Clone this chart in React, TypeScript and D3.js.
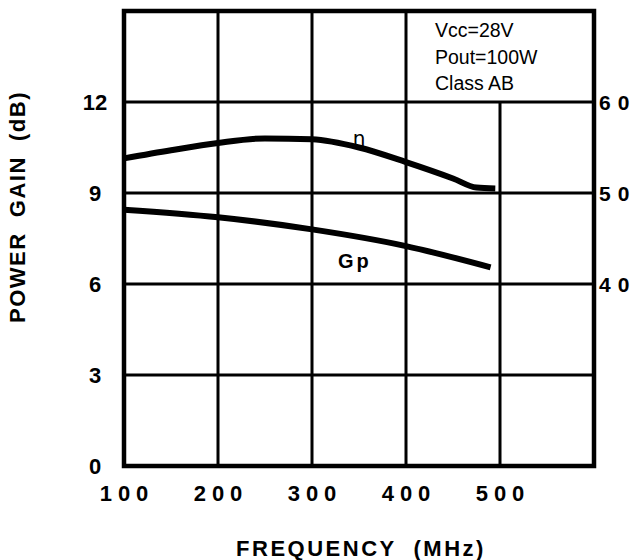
import * as d3 from 'd3';
import React from 'react';

// axis ticks
const freqTicks = [100, 200, 300, 400, 500];
const gainTicks = [0, 3, 6, 9, 12];
const effTicks = [40, 50, 60];

// Gp curve (power gain, dB)
const gpFreq = [100, 200, 300, 400, 490];
const gpGain = [8.45, 8.2, 7.8, 7.25, 6.55];

// eta curve (efficiency, %), read on the right axis
const etaFreq = [100, 150, 200, 250, 300, 350, 400, 450, 475, 495];
const etaEff = [53.8, 54.7, 55.5, 56.0, 55.9, 55.0, 53.4, 51.6, 50.6, 50.5];

const notes = ['Vcc=28V', 'Pout=100W', 'Class AB'];

export default function App() {
    const width = 639;
    const height = 560;
    const left = 124, right = 594, top = 11, bottom = 466;

    const x = d3.scaleLinear().domain([100, 600]).range([left, right]);
    const y = d3.scaleLinear().domain([0, 15]).range([bottom, top]);
    const yEff = d3.scaleLinear().domain([20, 70]).range([bottom, top]);

    const line = d3.line<[number, number]>()
        .x(d => d[0])
        .y(d => d[1])
        .curve(d3.curveMonotoneX);

    const gpPath = line(gpFreq.map((f, i) => [x(f), y(gpGain[i])]));
    const etaPath = line(etaFreq.map((f, i) => [x(f), yEff(etaEff[i])]));

    const font = '"Liberation Sans", Arial, Helvetica, sans-serif';

    return (
        <svg
            width={width}
            height={height}
            viewBox={`0 0 ${width} ${height}`}
            style={{position: 'absolute', left: 0, top: 0, background: '#fff'}}
            fontFamily={font}
            fill="#000"
        >
            <rect x={0} y={0} width={width} height={height} fill="#fff" />

            {/* horizontal grid */}
            {gainTicks.filter(t => t > 0).map(t => (
                <line key={'h' + t} x1={left} x2={right} y1={y(t)} y2={y(t)}
                      stroke="#000" strokeWidth={3} />
            ))}

            {/* vertical grid, 500 line stops under the note box */}
            {freqTicks.filter(t => t > 100).map(t => (
                <line key={'v' + t} x1={x(t)} x2={x(t)} y1={bottom}
                      y2={t === 500 ? y(12) : top}
                      stroke="#000" strokeWidth={3} />
            ))}

            <rect x={left} y={top} width={right - left} height={bottom - top}
                  fill="none" stroke="#000" strokeWidth={4.5} />

            {/* curves */}
            <path d={etaPath ?? ''} fill="none" stroke="#000" strokeWidth={6} />
            <path d={gpPath ?? ''} fill="none" stroke="#000" strokeWidth={6} />

            <text x={359} y={145} fontSize={20} textAnchor="middle" fill="#000"
                  fontFamily='"DejaVu Sans", sans-serif'>η</text>
            <text x={338} y={268} fontSize={20} fontWeight="bold" letterSpacing={3}>Gp</text>

            {/* note box */}
            {notes.map((n, i) => (
                <text key={n} x={435} y={37 + i * 26.5} fontSize={19.5}>{n}</text>
            ))}

            {/* left axis labels */}
            {gainTicks.map(t => (
                <text key={'l' + t} x={95} y={y(t)} dy="0.36em" fontSize={22}
                      fontWeight="bold" textAnchor="middle">{t}</text>
            ))}

            {/* right axis labels */}
            {effTicks.map(t => (
                <text key={'r' + t} x={599} y={yEff(t)} dy="0.36em" fontSize={21}
                      fontWeight="bold" letterSpacing={7}>{t}</text>
            ))}

            {/* bottom axis labels */}
            {freqTicks.map(t => (
                <text key={'b' + t} x={x(t) + 3} y={501} fontSize={22}
                      fontWeight="bold" letterSpacing={6} textAnchor="middle">{t}</text>
            ))}

            <text x={361} y={556} fontSize={22} fontWeight="bold" letterSpacing={2.5}
                  textAnchor="middle" style={{whiteSpace: 'pre'}}>{'FREQUENCY  (MHz)'}</text>

            <text transform="translate(25,207) rotate(-90)" fontSize={22} fontWeight="bold"
                  letterSpacing={1.5} textAnchor="middle"
                  style={{whiteSpace: 'pre'}}>{'POWER  GAIN  (dB)'}</text>
        </svg>
    );
}
